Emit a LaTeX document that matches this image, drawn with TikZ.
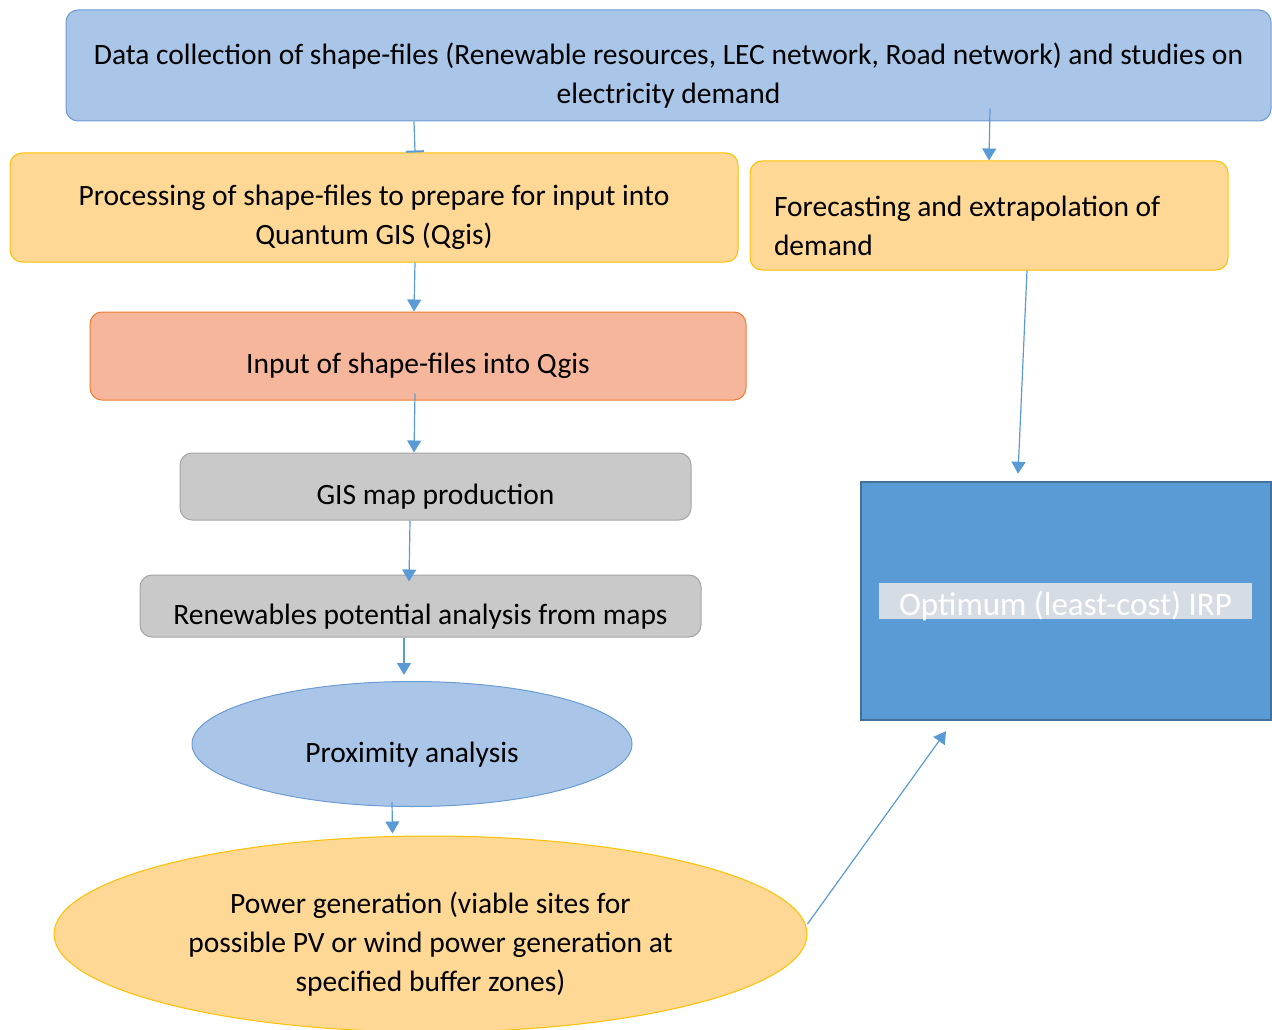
\documentclass[tikz,border=0pt]{standalone}
\usepackage{fontspec}
\setmainfont{Carlito}
\usetikzlibrary{arrows.meta,shapes.geometric}
\definecolor{lightblue}{HTML}{A9C5E8}
\definecolor{blueline}{HTML}{6C9BD2}
\definecolor{lightorange}{HTML}{FFD895}
\definecolor{orangeline}{HTML}{FFC000}
\definecolor{salmon}{HTML}{F5B69B}
\definecolor{salmonline}{HTML}{ED7D31}
\definecolor{lightgray}{HTML}{C9C9C9}
\definecolor{grayline}{HTML}{A5A5A5}
\definecolor{midblue}{HTML}{5B9BD5}
\definecolor{darkblue}{HTML}{41719C}
\definecolor{labelgray}{HTML}{D6DCE4}

\begin{document}
\begin{tikzpicture}[x=1pt,y=-1pt,font=\fontsize{29.5}{39}\selectfont]
\tikzstyle{box}=[draw,rounded corners=12pt,line width=1pt,align=flush center,inner sep=0pt,execute at begin node={\rule{0pt}{41pt}}]
\tikzstyle{oval}=[ellipse,draw,line width=1pt,align=flush center,inner sep=0pt,execute at begin node={\rule{0pt}{41pt}}]
\tikzstyle{arrow}=[draw=midblue,line width=1.2pt,-{Triangle[width=14pt,length=12pt]}]
\useasboundingbox (0,0) rectangle (1272,1030);
% boxes
\node[box,fill=lightblue,draw=blueline,minimum width=1205pt,minimum height=111pt,text width=1185pt] (data) at (668.5,65.5)
	{Data collection of shape-files (Renewable resources, LEC network, Road network) and studies on\\electricity demand};
\node[box,fill=lightorange,draw=orangeline,minimum width=728pt,minimum height=109pt,text width=700pt] (proc) at (374,207.5)
	{Processing of shape-files to prepare for input into\\Quantum GIS (Qgis)};
\node[box,fill=lightorange,draw=orangeline,minimum width=478pt,minimum height=109pt,align=flush left,text width=430pt] (fcast) at (989,215.5)
	{Forecasting and extrapolation of\\demand};
\node[box,fill=salmon,draw=salmonline,minimum width=656pt,minimum height=88pt] (input) at (418,356)
	{Input of shape-files into Qgis};
\node[box,fill=lightgray,draw=grayline,minimum width=511pt,minimum height=67pt] (gis) at (435.5,486.5)
	{GIS map production};
\node[box,fill=lightgray,draw=grayline,minimum width=561pt,minimum height=62pt] (renew) at (420.5,606)
	{Renewables potential analysis from maps};
\node[oval,fill=lightblue,draw=blueline,minimum width=440pt,minimum height=125pt] (prox) at (412,744)
	{Proximity analysis};
\node[oval,fill=lightorange,draw=orangeline,minimum width=753pt,minimum height=196pt,text width=525pt] (power) at (430.5,934)
	{Power generation (viable sites for\\possible PV or wind power generation at\\specified buffer zones)};
\node[draw=darkblue,fill=midblue,line width=2.5pt,minimum width=410pt,minimum height=238pt] (irp) at (1066,601) {};
\node[fill=labelgray,text=white,font=\fontsize{33}{39}\selectfont,minimum width=373pt,text height=32pt,text depth=4pt,inner sep=0pt] (irplabel) at (1065.5,601)
	{Optimum (least-cost) IRP};
% connectors
\draw[draw=midblue,line width=1.2pt,-{Bar[width=18pt,line width=2pt]}] ([xshift=-254.5pt]data.south) -- ([xshift=41pt]proc.north);
\draw[arrow] ([xshift=321.5pt,yshift=13pt]data.south) -- (fcast.north);
\draw[arrow] ([xshift=41pt]proc.south) -- ([xshift=-4pt]input.north);
\draw[arrow] ([xshift=38pt]fcast.south) -- ([xshift=-48pt,yshift=7pt]irp.north);
\draw[arrow] ([xshift=-3pt,yshift=7pt]input.south) -- ([xshift=-21.5pt]gis.north);
\draw[arrow] ([xshift=-25.5pt]gis.south) -- ([xshift=-11.5pt,yshift=-7pt]renew.north);
\draw[arrow] ([xshift=-16.5pt]renew.south) -- ([xshift=-8pt,yshift=6pt]prox.north);
\draw[arrow] ([xshift=-20pt,yshift=5pt]prox.south) -- ([xshift=-38pt,yshift=2pt]power.north);
\draw[arrow] ([yshift=10pt]power.east) -- ([xshift=-120pt,yshift=-10pt]irp.south);
\end{tikzpicture}
\end{document}
